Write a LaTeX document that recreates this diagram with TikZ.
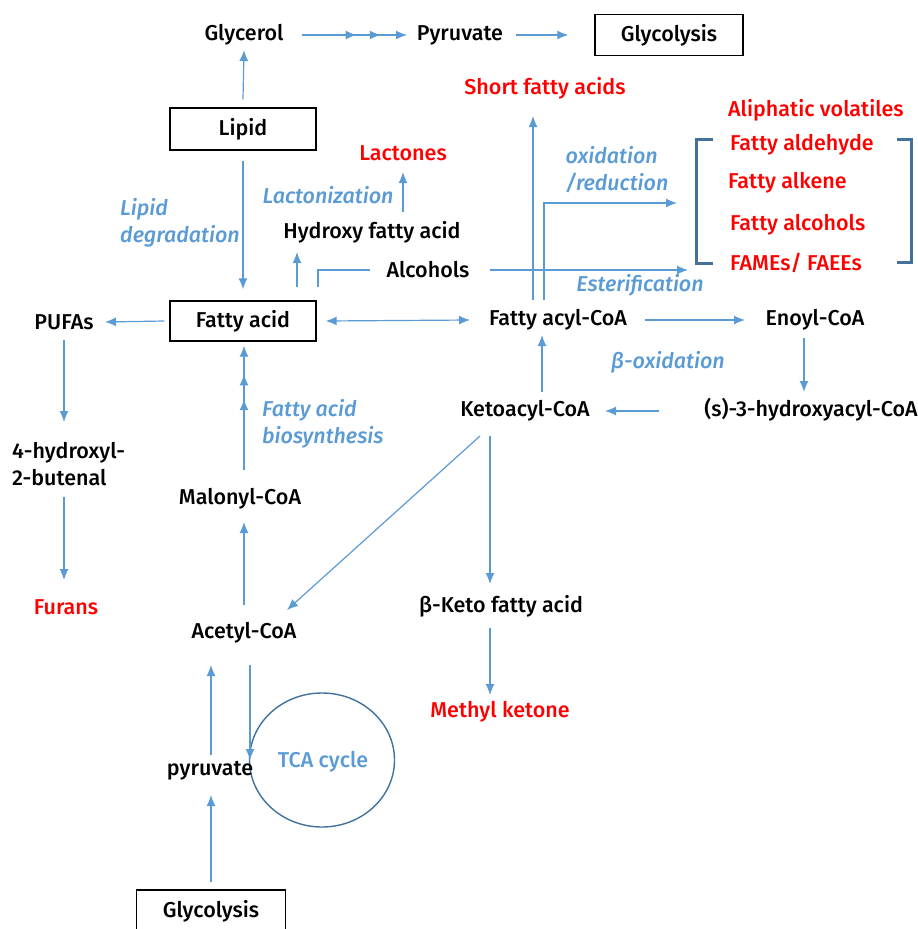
\documentclass[tikz,border=0pt]{standalone}
\usepackage{fontspec}
\setmainfont{Fira Sans}[UprightFont={* Medium}, ItalicFont={* Medium Italic}]
\usetikzlibrary{arrows.meta,decorations.markings,shapes.geometric}
\definecolor{arrblue}{HTML}{5B9BD5}
\definecolor{darkblue}{HTML}{41719C}
\definecolor{myred}{HTML}{FF0000}
\tikzset{
  lbl/.style={font=\fontsize{21.5}{27}\selectfont, inner sep=1pt},
  redlbl/.style={lbl, text=myred},
  proc/.style={font=\fontsize{21.5}{27}\selectfont\itshape, text=arrblue, inner sep=1pt, align=left},
  boxnode/.style={lbl, draw=black, line width=1.4pt, minimum width=146pt, minimum height=41pt},
  arr/.style={draw=arrblue, line width=1.2pt, -{Latex[length=11pt,width=9pt]}},
  darr/.style={draw=arrblue, line width=1.2pt, {Latex[length=11pt,width=9pt]}-{Latex[length=11pt,width=9pt]}},
  ln/.style={draw=arrblue, line width=1.2pt},
  bracketline/.style={draw=darkblue, line width=3pt},
  midhead/.style={postaction={decorate, decoration={markings, mark=at position #1 with {\arrow{Latex[length=11pt,width=9pt]}}}}}
}
\begin{document}
\begin{tikzpicture}[x=1pt,y=-1pt]
\useasboundingbox (0,0) rectangle (918,929);
% nodes
\node[lbl] (glycerol) at (244,35) {Glycerol};
\node[lbl] (pyr1) at (460,35) {Pyruvate};
\node[boxnode, minimum width=148pt] (glyco1) at (669,35) {Glycolysis};
\node[redlbl] (sfa) at (545,88) {Short fatty acids};
\node[redlbl, anchor=west] (aliph) at (727,110) {Aliphatic volatiles};
\node[boxnode, minimum height=42pt] (lipid) at (243,129) {Lipid};
\node[redlbl] (lact) at (403,153) {Lactones};
\node[proc] (oxred) at (617,170) {oxidation\\/reduction};
\node[redlbl, anchor=west] (fald) at (729,145) {Fatty aldehyde};
\node[redlbl, anchor=west] (falk) at (727,183) {Fatty alkene};
\node[redlbl, anchor=west] (falc) at (729,225) {Fatty alcohols};
\node[redlbl, anchor=west] (fames) at (729,263) {FAMEs/ FAEEs};
\node[proc] (lacton) at (328,195) {Lactonization};
\node[proc, anchor=west] (lipdeg) at (119,223) {Lipid\\degradation};
\node[lbl] (hfa) at (372,232) {Hydroxy fatty acid};
\node[lbl] (alc) at (428,270) {Alcohols};
\node[proc] (ester) at (640,285) {Esterification};
\node[lbl] (pufa) at (64,322) {PUFAs};
\node[boxnode, minimum height=40pt] (fa) at (243,321) {Fatty acid};
\node[lbl] (facoa) at (558,320) {Fatty acyl-CoA};
\node[lbl] (enoyl) at (815,320) {Enoyl-CoA};
\node[proc] (betaox) at (668,362) {β-oxidation};
\node[lbl] (keto) at (525,411) {Ketoacyl-CoA};
\node[lbl] (shacoa) at (811,410) {(s)-3-hydroxyacyl-CoA};
\node[proc, anchor=west] (fabio) at (261,424) {Fatty acid\\biosynthesis};
\node[lbl, align=left, anchor=west] (hbut) at (11,464) {4-hydroxyl-\\2-butenal};
\node[lbl] (malonyl) at (240,499) {Malonyl-CoA};
\node[redlbl] (furans) at (66,607) {Furans};
\node[lbl] (bketo) at (501,606) {β-Keto fatty acid};
\node[lbl] (acetyl) at (244,633) {Acetyl-CoA};
\node[redlbl] (mketo) at (500,712) {Methyl ketone};
\node[draw=darkblue, line width=1.4pt, ellipse, minimum width=145pt, minimum height=134pt] (tca) at (322,760) {};
\node[lbl, text=arrblue] (tcatext) at (323,762) {TCA cycle};
\node[lbl] (pyr2) at (210,771) {pyruvate};
\node[boxnode, minimum width=149pt, minimum height=42pt] (glyco2) at (211,911) {Glycolysis};
% brackets
\draw[bracketline] (713,139) -- (696,139) -- (696,263) -- (713,263);
\draw[bracketline] (897,139) -- (911,139) -- (911,262) -- (897,262);
% connectors
\coordinate (estertip) at (688,270);
\coordinate (oxtip) at (677,203);
\draw[arr, midhead=0.52, midhead=0.75] ([xshift=58pt]glycerol.center) -- ([xshift=-53pt]pyr1.center);
\draw[arr] ([xshift=56pt]pyr1.center) -- ([xshift=-26pt]glyco1.west);
\draw[arr] ([yshift=8pt]lipid.north) -- ([yshift=-15pt]glycerol.center);
\draw[arr] ([yshift=-10pt]lipid.south) -- ([yshift=11pt]fa.north);
\draw[arr] ([xshift=54pt,yshift=13pt]fa.north) -- ([xshift=-75pt,yshift=-20pt]hfa.center);
\draw[arr] ([xshift=31pt,yshift=20pt]hfa.center) -- ([yshift=-19pt]lact.center);
\draw[ln] ([xshift=75pt,yshift=13pt]fa.north) |- ([xshift=-58pt]alc.center);
\draw[arr] ([xshift=62pt]alc.center) -- (estertip);
\draw[arr] ([xshift=-14pt,yshift=20pt]facoa.center) |- (oxtip);
\draw[arr] ([xshift=-25pt,yshift=20pt]facoa.center) -- ([xshift=-12pt,yshift=-28pt]sfa.center);
\draw[darr] ([xshift=9pt]fa.east) -- ([xshift=-88pt]facoa.center);
\draw[arr] ([xshift=87pt]facoa.center) -- ([xshift=-70pt]enoyl.center);
\draw[arr] ([xshift=-11pt,yshift=-18pt]enoyl.center) -- ([xshift=-7pt,yshift=18pt]shacoa.center);
\draw[arr] ([xshift=-152pt,yshift=-1pt]shacoa.center) -- ([xshift=80pt]keto.center);
\draw[arr] ([xshift=17pt,yshift=19pt]keto.center) -- ([xshift=-16pt,yshift=-15pt]facoa.center);
\draw[arr] ([xshift=-45pt,yshift=-25pt]keto.center) -- ([xshift=43pt,yshift=23pt]acetyl.center);
\draw[arr] ([xshift=-35pt,yshift=-25pt]keto.center) -- ([xshift=-11pt,yshift=22pt]bketo.center);
\draw[arr] ([xshift=-11pt,yshift=-22pt]bketo.center) -- ([xshift=-10pt,yshift=17pt]mketo.center);
\draw[arr] ([xshift=-5pt]fa.west) -- ([xshift=41pt]pufa.center);
\draw[arr] ([yshift=-18pt]pufa.center) -- ([xshift=53pt,yshift=42pt]hbut.west);
\draw[arr] ([xshift=53pt,yshift=-33pt]hbut.west) -- ([xshift=-2pt,yshift=27pt]furans.center);
\draw[arr, midhead=0.57, midhead=0.77] ([xshift=4pt,yshift=29pt]malonyl.center) -- ([xshift=1pt,yshift=-4pt]fa.south);
\draw[arr] ([yshift=28pt]acetyl.center) -- ([xshift=4pt,yshift=-23pt]malonyl.center);
\draw[arr] ([xshift=1pt,yshift=16pt]pyr2.center) -- ([xshift=-33pt,yshift=-32pt]acetyl.center);
\draw[arr] ([xshift=6pt,yshift=-32pt]acetyl.center) -- ([xshift=-72pt]tca.center);
\draw[arr] ([yshift=7pt]glyco2.north) -- ([xshift=1pt,yshift=-24pt]pyr2.center);
\end{tikzpicture}
\end{document}
